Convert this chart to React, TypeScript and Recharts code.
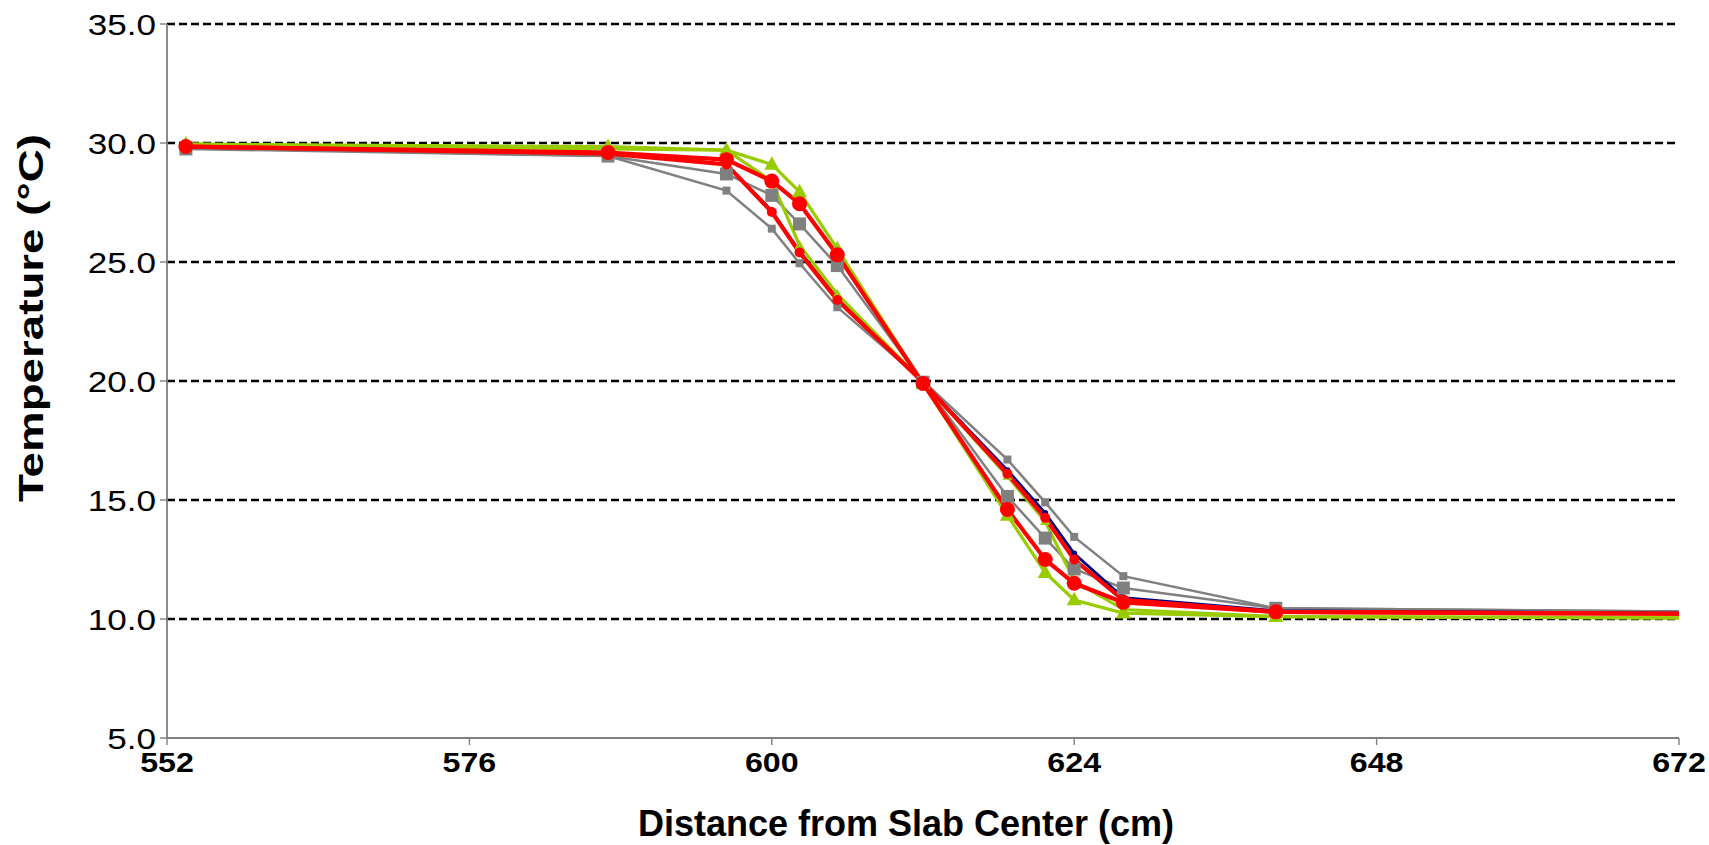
import React from 'react';
import { LineChart, Line, XAxis, YAxis, CartesianGrid } from 'recharts';

// distance from slab center (cm); last point sits past the axis end and is clipped
const distance = [553.5, 587, 596.4, 600, 602.2, 605.2, 612, 618.7, 621.7, 624, 627.9, 640, 700];

// temperature profiles (°C)
const graySmall = [29.8, 29.45, 28.0, 26.4, 24.95, 23.1, 20.0, 16.7, 14.9, 13.45, 11.8, 10.45, 10.2];
const grayLarge = [29.75, 29.45, 28.7, 27.8, 26.6, 24.85, 19.95, 15.15, 13.4, 12.1, 11.3, 10.45, 10.2];
const greenSmall = [29.95, 29.75, 29.7, 28.4, 25.7, 23.65, 19.95, 16.0, 14.1, 11.6, 10.4, 10.1, 10.0];
const greenLarge = [29.95, 29.85, 29.7, 29.1, 27.95, 25.55, 19.9, 14.35, 11.95, 10.8, 10.25, 10.1, 10.0];
const navySeries = [29.85, 29.6, 29.1, 27.15, 25.45, 23.45, 19.95, 16.25, 14.45, 12.75, 10.9, 10.35, 10.15];
const redSmall = [29.85, 29.55, 29.1, 27.1, 25.4, 23.4, 19.95, 16.1, 14.25, 12.5, 10.8, 10.3, 10.15];
const redLarge = [29.85, 29.6, 29.3, 28.4, 27.45, 25.3, 19.9, 14.6, 12.5, 11.5, 10.7, 10.3, 10.15];

const xTicks = [552, 576, 600, 624, 648, 672];
const yTicks = [5, 10, 15, 20, 25, 30, 35];
const gridValues = [10, 15, 20, 25, 30, 35];

const rows = distance.map((d, i) => ({
  distance: d,
  graySmall: graySmall[i],
  grayLarge: grayLarge[i],
  greenSmall: greenSmall[i],
  greenLarge: greenLarge[i],
  navy: navySeries[i],
  redSmall: redSmall[i],
  redLarge: redLarge[i],
}));

const GRAY = '#808080';
const GREEN = '#99CC00';
const RED = '#FF0000';
const NAVY = '#000080';
const FONT = '"Liberation Sans", Arial, sans-serif';

type Shape = 'square' | 'triangle' | 'circle';

const marker = (shape: Shape, size: number, fill: string) => (props: any) => {
  const { cx, cy, index } = props;
  if (cx == null || cy == null) return null;
  const k = `m-${shape}-${size}-${index}`;
  if (shape === 'square') {
    return <rect key={k} x={cx - size / 2} y={cy - size / 2} width={size} height={size} fill={fill} />;
  }
  if (shape === 'triangle') {
    const h = size * 0.9;
    const pts = `${cx},${cy - h * 0.6} ${cx + size / 2},${cy + h * 0.4} ${cx - size / 2},${cy + h * 0.4}`;
    return <polygon key={k} points={pts} fill={fill} />;
  }
  return <circle key={k} cx={cx} cy={cy} r={size / 2} fill={fill} />;
};

const YTick = ({ x, y, payload }: any) => (
  <text
    transform={`translate(${x},${y}) scale(1.17,1)`}
    textAnchor="end"
    dy="0.36em"
    fontSize={30}
    fontFamily={FONT}
    fill="#000"
  >
    {Number(payload.value).toFixed(1)}
  </text>
);

const XTick = ({ x, y, payload }: any) => (
  <text
    transform={`translate(${x},${y}) scale(1.15,1)`}
    textAnchor="middle"
    dy={21}
    fontSize={28}
    fontWeight="bold"
    fontFamily={FONT}
    fill="#000"
  >
    {payload.value}
  </text>
);

const XTitle = () => (
  <text x={906} y={836} textAnchor="middle" fontSize={36} fontWeight="bold" fontFamily={FONT} fill="#000">
    Distance from Slab Center (cm)
  </text>
);

const YTitle = () => (
  <text
    transform="translate(43,318) rotate(-90) scale(1.27,1)"
    textAnchor="middle"
    fontSize={36}
    fontWeight="bold"
    fontFamily={FONT}
    fill="#000"
  >
    Temperature (°C)
  </text>
);

export default function App() {
  return (
    <div style={{ position: 'absolute', left: 0, top: 0, width: 1709, height: 845, background: '#fff' }}>
      <LineChart width={1709} height={845} data={rows} margin={{ top: 24, right: 30, bottom: 47, left: 67 }}>
        <CartesianGrid
          vertical={false}
          horizontalValues={gridValues}
          stroke="#000"
          strokeWidth={2.4}
          strokeDasharray="8 4"
        />
        <XAxis
          type="number"
          dataKey="distance"
          domain={[552, 672]}
          ticks={xTicks}
          allowDataOverflow
          height={60}
          axisLine={{ stroke: GRAY, strokeWidth: 1.8 }}
          tickLine={{ stroke: GRAY, strokeWidth: 1.4 }}
          tickSize={7}
          tickMargin={6}
          tick={<XTick />}
          label={{ content: () => <XTitle /> }}
        />
        <YAxis
          type="number"
          domain={[5, 35]}
          ticks={yTicks}
          width={100}
          axisLine={{ stroke: GRAY, strokeWidth: 1.8 }}
          tickLine={{ stroke: GRAY, strokeWidth: 1.4 }}
          tickSize={7}
          tickMargin={4}
          tick={<YTick />}
          label={{ content: () => <YTitle /> }}
        />
        <Line type="linear" dataKey="graySmall" stroke={GRAY} strokeWidth={2.5} dot={marker('square', 8, GRAY)} activeDot={false} isAnimationActive={false} />
        <Line type="linear" dataKey="grayLarge" stroke={GRAY} strokeWidth={2.5} dot={marker('square', 13, GRAY)} activeDot={false} isAnimationActive={false} />
        <Line type="linear" dataKey="greenSmall" stroke={GREEN} strokeWidth={3.2} dot={marker('triangle', 10, GREEN)} activeDot={false} isAnimationActive={false} />
        <Line type="linear" dataKey="greenLarge" stroke={GREEN} strokeWidth={3.2} dot={marker('triangle', 15, GREEN)} activeDot={false} isAnimationActive={false} />
        <Line type="linear" dataKey="navy" stroke={NAVY} strokeWidth={2.8} dot={marker('circle', 6, NAVY)} activeDot={false} isAnimationActive={false} />
        <Line type="linear" dataKey="redSmall" stroke={RED} strokeWidth={4.2} dot={marker('circle', 10, RED)} activeDot={false} isAnimationActive={false} />
        <Line type="linear" dataKey="redLarge" stroke={RED} strokeWidth={4.2} dot={marker('circle', 15, RED)} activeDot={false} isAnimationActive={false} />
      </LineChart>
    </div>
  );
}
